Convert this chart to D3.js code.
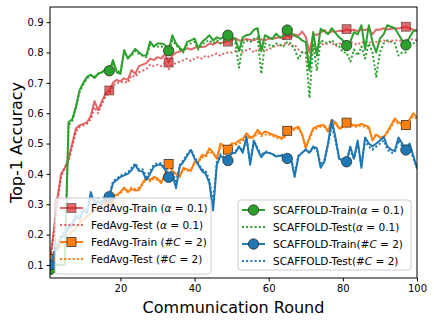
<!DOCTYPE html>
<html>
<head>
<meta charset="utf-8">
<script src="https://cdn.jsdelivr.net/npm/d3@7"></script>
<style>
    body { margin: 0; background: #fff; }
    svg { font-family: "DejaVu Sans", sans-serif; }
</style>
</head>
<body>
<svg id="canvas"></svg>
<script>
let fedavgTrainAlpha = [
    0.12, 0.21, 0.32, 0.40, 0.42, 0.45, 0.50, 0.55, 0.56, 0.565,
    0.57, 0.59, 0.64, 0.61, 0.64, 0.665, 0.675, 0.70, 0.71, 0.705,
    0.715, 0.71, 0.742, 0.73, 0.755, 0.76, 0.765, 0.78, 0.775, 0.785,
    0.78, 0.795, 0.767, 0.79, 0.80, 0.803, 0.81, 0.814, 0.81, 0.815,
    0.82, 0.818, 0.82, 0.83, 0.826, 0.835, 0.83, 0.835, 0.836, 0.84,
    0.847, 0.84, 0.84, 0.845, 0.842, 0.84, 0.845, 0.843, 0.84, 0.846,
    0.845, 0.848, 0.85, 0.845, 0.857, 0.85, 0.86, 0.855, 0.869, 0.852,
    0.80, 0.86, 0.858, 0.865, 0.874, 0.862, 0.87, 0.868, 0.872, 0.87,
    0.877, 0.872, 0.875, 0.87, 0.876, 0.874, 0.878, 0.86, 0.876, 0.875,
    0.88, 0.876, 0.878, 0.88, 0.879, 0.882, 0.885, 0.88, 0.875, 0.87
]
let fedavgTestAlpha = [
    0.11, 0.20, 0.31, 0.39, 0.42, 0.44, 0.49, 0.54, 0.555, 0.56,
    0.565, 0.58, 0.62, 0.60, 0.63, 0.655, 0.665, 0.69, 0.70, 0.70,
    0.705, 0.70, 0.725, 0.72, 0.735, 0.74, 0.745, 0.76, 0.755, 0.76,
    0.755, 0.765, 0.745, 0.762, 0.765, 0.77, 0.775, 0.78, 0.772, 0.78,
    0.785, 0.78, 0.79, 0.785, 0.792, 0.797, 0.79, 0.797, 0.80, 0.80,
    0.805, 0.81, 0.80, 0.808, 0.812, 0.80, 0.81, 0.815, 0.805, 0.812,
    0.815, 0.825, 0.82, 0.828, 0.83, 0.82, 0.825, 0.81, 0.80, 0.80,
    0.78, 0.815, 0.822, 0.83, 0.825, 0.83, 0.835, 0.82, 0.83, 0.828,
    0.83, 0.835, 0.83, 0.825, 0.835, 0.832, 0.838, 0.825, 0.835, 0.836,
    0.84, 0.835, 0.84, 0.838, 0.842, 0.835, 0.84, 0.845, 0.842, 0.84
]
let fedavgTrainC = [
    0.12, 0.14, 0.15, 0.17, 0.18, 0.20, 0.21, 0.22, 0.24, 0.25,
    0.26, 0.27, 0.28, 0.29, 0.30, 0.31, 0.31, 0.33, 0.33, 0.34,
    0.355, 0.34, 0.35, 0.345, 0.347, 0.37, 0.39, 0.38, 0.39, 0.385,
    0.37, 0.40, 0.433, 0.41, 0.40, 0.39, 0.42, 0.415, 0.41, 0.44,
    0.44, 0.462, 0.46, 0.484, 0.47, 0.45, 0.50, 0.49, 0.48, 0.50,
    0.50, 0.51, 0.515, 0.534, 0.52, 0.525, 0.545, 0.53, 0.54, 0.535,
    0.53, 0.525, 0.52, 0.52, 0.542, 0.55, 0.55, 0.556, 0.53, 0.485,
    0.52, 0.55, 0.556, 0.56, 0.56, 0.54, 0.578, 0.57, 0.55, 0.555,
    0.569, 0.565, 0.56, 0.56, 0.565, 0.56, 0.555, 0.51, 0.53, 0.52,
    0.52, 0.54, 0.56, 0.583, 0.57, 0.565, 0.561, 0.58, 0.60, 0.585
]
let fedavgTestC = [
    0.11, 0.13, 0.15, 0.16, 0.18, 0.19, 0.21, 0.22, 0.23, 0.25,
    0.26, 0.27, 0.28, 0.285, 0.295, 0.30, 0.305, 0.32, 0.33, 0.335,
    0.35, 0.345, 0.355, 0.35, 0.355, 0.365, 0.385, 0.375, 0.385, 0.38,
    0.375, 0.395, 0.42, 0.405, 0.40, 0.395, 0.415, 0.41, 0.415, 0.435,
    0.44, 0.455, 0.455, 0.475, 0.465, 0.455, 0.49, 0.485, 0.475, 0.49,
    0.495, 0.50, 0.51, 0.525, 0.515, 0.52, 0.535, 0.525, 0.53, 0.53,
    0.525, 0.52, 0.515, 0.515, 0.535, 0.545, 0.545, 0.55, 0.53, 0.49,
    0.515, 0.545, 0.55, 0.555, 0.555, 0.54, 0.565, 0.565, 0.55, 0.55,
    0.56, 0.56, 0.555, 0.555, 0.56, 0.555, 0.55, 0.515, 0.53, 0.52,
    0.52, 0.535, 0.555, 0.575, 0.565, 0.56, 0.555, 0.575, 0.59, 0.58
]
let scaffoldTrainAlpha = [
    0.085, 0.10, 0.10, 0.10, 0.10, 0.57, 0.58, 0.62, 0.677, 0.70,
    0.72, 0.727, 0.716, 0.73, 0.735, 0.745, 0.74, 0.775, 0.735, 0.73,
    0.808, 0.78, 0.795, 0.812, 0.80, 0.79, 0.79, 0.836, 0.82, 0.83,
    0.83, 0.825, 0.806, 0.857, 0.83, 0.815, 0.805, 0.835, 0.84, 0.846,
    0.814, 0.835, 0.845, 0.857, 0.84, 0.85, 0.845, 0.852, 0.857, 0.85,
    0.845, 0.805, 0.85, 0.857, 0.86, 0.875, 0.88, 0.805, 0.857, 0.85,
    0.845, 0.862, 0.85, 0.855, 0.874, 0.865, 0.855, 0.85, 0.84, 0.834,
    0.74, 0.868, 0.79, 0.878, 0.87, 0.86, 0.88, 0.865, 0.85, 0.84,
    0.823, 0.835, 0.867, 0.86, 0.89, 0.81, 0.89, 0.835, 0.80, 0.846,
    0.86, 0.89, 0.885, 0.88, 0.86, 0.84, 0.825, 0.85, 0.87, 0.875
]
let scaffoldTestAlpha = [
    0.10, 0.10, 0.10, 0.10, 0.10, 0.56, 0.575, 0.62, 0.67, 0.695,
    0.715, 0.725, 0.72, 0.73, 0.735, 0.74, 0.745, 0.765, 0.74, 0.735,
    0.80, 0.785, 0.79, 0.805, 0.795, 0.79, 0.785, 0.825, 0.82, 0.82,
    0.82, 0.815, 0.80, 0.84, 0.825, 0.81, 0.80, 0.825, 0.83, 0.835,
    0.81, 0.825, 0.835, 0.84, 0.83, 0.84, 0.83, 0.84, 0.84, 0.83,
    0.83, 0.75, 0.83, 0.84, 0.835, 0.845, 0.85, 0.73, 0.83, 0.825,
    0.82, 0.83, 0.825, 0.82, 0.835, 0.83, 0.81, 0.78, 0.80, 0.80,
    0.65, 0.83, 0.74, 0.84, 0.835, 0.83, 0.84, 0.83, 0.82, 0.80,
    0.80, 0.77, 0.81, 0.79, 0.82, 0.78, 0.83, 0.80, 0.72, 0.80,
    0.83, 0.84, 0.835, 0.83, 0.79, 0.80, 0.80, 0.82, 0.83, 0.84
]
let scaffoldTrainC = [
    0.10, 0.13, 0.16, 0.19, 0.20, 0.22, 0.23, 0.26, 0.25, 0.28,
    0.27, 0.34, 0.30, 0.31, 0.30, 0.33, 0.325, 0.37, 0.38, 0.39,
    0.395, 0.40, 0.413, 0.43, 0.41, 0.408, 0.38, 0.40, 0.424, 0.43,
    0.43, 0.415, 0.389, 0.40, 0.353, 0.425, 0.44, 0.46, 0.479, 0.45,
    0.43, 0.41, 0.40, 0.37, 0.28, 0.43, 0.46, 0.45, 0.444, 0.468,
    0.47, 0.49, 0.47, 0.523, 0.43, 0.51, 0.48, 0.455, 0.47, 0.47,
    0.465, 0.457, 0.46, 0.46, 0.451, 0.45, 0.39, 0.457, 0.47, 0.48,
    0.47, 0.49, 0.485, 0.42, 0.44, 0.50, 0.578, 0.52, 0.45, 0.445,
    0.44, 0.49, 0.45, 0.51, 0.42, 0.52, 0.50, 0.49, 0.50, 0.51,
    0.523, 0.49, 0.48, 0.475, 0.52, 0.50, 0.479, 0.50, 0.46, 0.418
]
let scaffoldTestC = [
    0.10, 0.14, 0.17, 0.20, 0.21, 0.23, 0.24, 0.27, 0.26, 0.29,
    0.28, 0.33, 0.31, 0.32, 0.31, 0.335, 0.33, 0.375, 0.385, 0.395,
    0.40, 0.405, 0.42, 0.435, 0.415, 0.415, 0.39, 0.41, 0.43, 0.435,
    0.435, 0.42, 0.40, 0.41, 0.37, 0.43, 0.445, 0.465, 0.48, 0.455,
    0.435, 0.415, 0.41, 0.38, 0.30, 0.44, 0.465, 0.455, 0.45, 0.47,
    0.475, 0.49, 0.475, 0.515, 0.44, 0.51, 0.485, 0.46, 0.475, 0.47,
    0.465, 0.46, 0.46, 0.465, 0.455, 0.455, 0.40, 0.46, 0.47, 0.48,
    0.47, 0.485, 0.48, 0.43, 0.445, 0.495, 0.56, 0.51, 0.45, 0.445,
    0.445, 0.48, 0.45, 0.50, 0.43, 0.51, 0.49, 0.48, 0.49, 0.50,
    0.51, 0.48, 0.47, 0.47, 0.51, 0.49, 0.47, 0.49, 0.45, 0.42
]

let xTicks = [20, 40, 60, 80, 100]
let yTicks = [0.1, 0.2, 0.3, 0.4, 0.5, 0.6, 0.7, 0.8, 0.9]

let width = 434
let height = 324
let margin = { left: 50, right: 17, top: 7, bottom: 46 }

let canvas = d3.select("#canvas")
    .attr("width", width)
    .attr("height", height)

let xScale = d3.scaleLinear()
    .domain([1, 100])
    .range([margin.left, width - margin.right])
let yScale = d3.scaleLinear()
    .domain([0.057, 0.95])
    .range([height - margin.bottom, margin.top])

// series in draw order
let series = [
    { name: "FedAvg-Train (", tag: "\u03b1", rest: " = 0.1)", values: fedavgTrainAlpha, color: "#d62728", dotted: false, marker: "square", alpha: 0.7 },
    { name: "FedAvg-Test (", tag: "\u03b1", rest: " = 0.1)", values: fedavgTestAlpha, color: "#d62728", dotted: true, marker: null, alpha: 0.7 },
    { name: "FedAvg-Train (#", tag: "C", rest: " = 2)", values: fedavgTrainC, color: "#ff7f0e", dotted: false, marker: "square", alpha: 1 },
    { name: "FedAvg-Test (#", tag: "C", rest: " = 2)", values: fedavgTestC, color: "#ff7f0e", dotted: true, marker: null, alpha: 1 },
    { name: "SCAFFOLD-Train(", tag: "\u03b1", rest: " = 0.1)", values: scaffoldTrainAlpha, color: "#2ca02c", dotted: false, marker: "circle", alpha: 1 },
    { name: "SCAFFOLD-Test(", tag: "\u03b1", rest: " = 0.1)", values: scaffoldTestAlpha, color: "#2ca02c", dotted: true, marker: null, alpha: 1 },
    { name: "SCAFFOLD-Train(#", tag: "C", rest: " = 2)", values: scaffoldTrainC, color: "#1f77b4", dotted: false, marker: "circle", alpha: 1 },
    { name: "SCAFFOLD-Test(#", tag: "C", rest: " = 2)", values: scaffoldTestC, color: "#1f77b4", dotted: true, marker: null, alpha: 1 }
]

let clip = canvas.append("clipPath").attr("id", "plot-clip")
    .append("rect")
    .attr("x", margin.left)
    .attr("y", margin.top)
    .attr("width", width - margin.left - margin.right)
    .attr("height", height - margin.top - margin.bottom)

let line = d3.line()
    .x((d, i) => xScale(i + 1))
    .y((d) => yScale(d))

let drawMarker = (g, type, cx, cy, color, alpha) => {
    let m
    if (type === "square") {
        m = g.append("rect")
            .attr("x", cx - 4.5)
            .attr("y", cy - 4.5)
            .attr("width", 9)
            .attr("height", 9)
    } else {
        m = g.append("circle")
            .attr("cx", cx)
            .attr("cy", cy)
            .attr("r", 5.2)
    }
    m.attr("fill", color)
        .attr("fill-opacity", alpha)
        .attr("stroke", "#222")
        .attr("stroke-opacity", alpha < 1 ? 0.6 : 0.9)
        .attr("stroke-width", 0.8)
}

let plot = canvas.append("g").attr("clip-path", "url(#plot-clip)")

series.forEach((s) => {
    plot.append("path")
        .datum(s.values)
        .attr("d", line)
        .attr("fill", "none")
        .attr("stroke", s.color)
        .attr("stroke-opacity", s.alpha)
        .attr("stroke-width", s.dotted ? 2 : 2)
        .attr("stroke-dasharray", s.dotted ? "2,2.2" : null)
        .attr("stroke-linejoin", "round")

    if (s.marker) {
        s.values.forEach((v, i) => {
            if (i % 16 === 0) {
                drawMarker(plot, s.marker, xScale(i + 1), yScale(v), s.color, s.alpha)
            }
        })
    }
})

// axes
let xAxis = d3.axisBottom(xScale).tickValues(xTicks).tickSize(3.5).tickPadding(3)
let yAxis = d3.axisLeft(yScale).tickValues(yTicks).tickSize(3.5).tickPadding(3)
    .tickFormat(d3.format(".1f"))

canvas.append("g")
    .attr("transform", "translate(0," + (height - margin.bottom) + ")")
    .call(xAxis)
    .call((g) => g.select(".domain").remove())
    .selectAll("text").attr("font-size", 10).attr("fill", "#000").attr("font-family", "DejaVu Sans")

canvas.append("g")
    .attr("transform", "translate(" + margin.left + ",0)")
    .call(yAxis)
    .call((g) => g.select(".domain").remove())
    .selectAll("text").attr("font-size", 10).attr("fill", "#000").attr("font-family", "DejaVu Sans")

canvas.append("rect")
    .attr("x", margin.left)
    .attr("y", margin.top)
    .attr("width", width - margin.left - margin.right)
    .attr("height", height - margin.top - margin.bottom)
    .attr("fill", "none")
    .attr("stroke", "#000")
    .attr("stroke-width", 1)

canvas.append("text")
    .attr("x", (margin.left + width - margin.right) / 2)
    .attr("y", 313)
    .attr("text-anchor", "middle")
    .attr("font-size", 16)
    .text("Communication Round")

canvas.append("text")
    .attr("transform", "translate(22," + ((margin.top + height - margin.bottom) / 2) + ") rotate(-90)")
    .attr("text-anchor", "middle")
    .attr("font-size", 16)
    .text("Top-1 Accuracy")

// legends
let drawLegend = (items, x, y, w, h, lineX0, lineX1, textX) => {
    let g = canvas.append("g")
    g.append("rect")
        .attr("x", x)
        .attr("y", y)
        .attr("width", w)
        .attr("height", h)
        .attr("rx", 3)
        .attr("fill", "#fff")
        .attr("fill-opacity", 0.8)
        .attr("stroke", "#ccc")
        .attr("stroke-width", 1)

    items.forEach((s, i) => {
        let cy = y + 10 + i * 17
        g.append("line")
            .attr("x1", lineX0)
            .attr("x2", lineX1)
            .attr("y1", cy)
            .attr("y2", cy)
            .attr("stroke", s.color)
            .attr("stroke-opacity", s.alpha)
            .attr("stroke-width", 2)
            .attr("stroke-dasharray", s.dotted ? "2,2.2" : null)
        if (s.marker) {
            drawMarker(g, s.marker, (lineX0 + lineX1) / 2, cy, s.color, s.alpha)
        }
        let t = g.append("text")
            .attr("x", textX)
            .attr("y", cy + 3.8)
            .attr("font-size", 10.5)
        t.append("tspan").text(s.name)
        t.append("tspan").attr("font-style", "italic").text(s.tag)
        t.append("tspan").text(s.rest)
    })
}

drawLegend(series.slice(0, 4), 55, 198, 156, 76, 60, 83, 91)
drawLegend(series.slice(4, 8), 238, 200, 173, 70, 242, 265, 273)
</script>
</body>
</html>
